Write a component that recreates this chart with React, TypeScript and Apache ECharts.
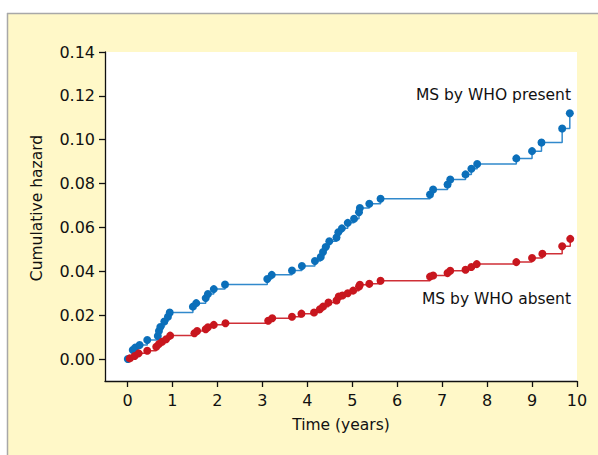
import React, { useEffect, useRef } from "react";
import * as echarts from "echarts";

// Time (years) and cumulative hazard at each event, MS by WHO present
const presentTime = [0.007, 0.118, 0.17, 0.27, 0.44, 0.675, 0.70, 0.73, 0.82, 0.90, 0.94, 1.455, 1.53, 1.74, 1.79, 1.92, 2.17, 3.11, 3.21, 3.66, 3.88, 4.17, 4.30, 4.35, 4.41, 4.49, 4.65, 4.69, 4.77, 4.90, 5.04, 5.15, 5.17, 5.38, 5.63, 6.73, 6.80, 7.12, 7.18, 7.52, 7.65, 7.78, 8.65, 9.00, 9.21, 9.67, 9.84];
const presentHazard = [0.0, 0.0041, 0.0052, 0.0064, 0.0087, 0.0105, 0.0128, 0.0146, 0.0171, 0.0193, 0.0212, 0.0239, 0.0255, 0.0278, 0.0297, 0.0319, 0.034, 0.0365, 0.0384, 0.0404, 0.0424, 0.0447, 0.0465, 0.0488, 0.0511, 0.0537, 0.0554, 0.0578, 0.0596, 0.0621, 0.064, 0.0669, 0.0689, 0.0708, 0.0731, 0.075, 0.0773, 0.0796, 0.0819, 0.0842, 0.0868, 0.0889, 0.0915, 0.0948, 0.0987, 0.1051, 0.1121];

// MS by WHO absent
const absentTime = [0.05, 0.16, 0.25, 0.44, 0.64, 0.70, 0.77, 0.86, 0.95, 1.49, 1.55, 1.74, 1.79, 1.92, 2.18, 3.13, 3.22, 3.66, 3.87, 4.15, 4.28, 4.35, 4.47, 4.65, 4.70, 4.78, 4.90, 5.02, 5.15, 5.17, 5.38, 5.63, 6.73, 6.80, 7.12, 7.18, 7.52, 7.65, 7.77, 8.65, 9.00, 9.23, 9.67, 9.85];
const absentHazard = [0.0003, 0.0014, 0.0026, 0.0038, 0.0056, 0.0069, 0.0079, 0.009, 0.0107, 0.0118, 0.0128, 0.0136, 0.0145, 0.0156, 0.0163, 0.0175, 0.0186, 0.0193, 0.0207, 0.0212, 0.0227, 0.0239, 0.0258, 0.0267, 0.0285, 0.029, 0.03, 0.0312, 0.0331, 0.0339, 0.0343, 0.0357, 0.0376, 0.0381, 0.0392, 0.0403, 0.0407, 0.042, 0.0433, 0.0442, 0.0461, 0.048, 0.0514, 0.0548];

const xTicks = [0, 1, 2, 3, 4, 5, 6, 7, 8, 9, 10];
const yTicks = [0, 0.02, 0.04, 0.06, 0.08, 0.1, 0.12, 0.14];

const seriesNames = ["MS by WHO present", "MS by WHO absent"];
const xTitle = "Time (years)";
const yTitle = "Cumulative hazard";

const FONT = "DejaVu Sans";

export default function App() {
  const ref = useRef<HTMLDivElement>(null);
  useEffect(() => {
    if (!ref.current) return;
    const chart = echarts.init(ref.current, undefined, { renderer: "svg" });
    const present = presentTime.map((t, i) => [t, presentHazard[i]]);
    const absent = absentTime.map((t, i) => [t, absentHazard[i]]);
    chart.setOption({
      animation: false,
      backgroundColor: "#fff8c8",
      textStyle: { fontFamily: FONT },
      grid: {
        left: 105,
        right: 21,
        top: 52,
        bottom: 74,
        show: true,
        backgroundColor: "#ffffff",
        borderWidth: 0,
      },
      xAxis: {
        type: "value",
        min: -0.5,
        max: 10,
        splitLine: { show: false },
        axisLine: { onZero: false, lineStyle: { color: "#111", width: 1.3 } },
        axisTick: { show: true, customValues: xTicks, length: 6, lineStyle: { color: "#111", width: 1.3 } },
        axisLabel: {
          customValues: xTicks,
          margin: 11,
          color: "#111",
          fontSize: 16,
          fontFamily: FONT,
        },
      },
      yAxis: {
        type: "value",
        min: -0.01,
        max: 0.14,
        splitLine: { show: false },
        axisLine: { show: true, onZero: false, lineStyle: { color: "#111", width: 1.3 } },
        axisTick: { show: true, customValues: yTicks, length: 6, lineStyle: { color: "#111", width: 1.3 } },
        axisLabel: {
          customValues: yTicks,
          margin: 10,
          color: "#111",
          fontSize: 16,
          fontFamily: FONT,
          formatter: (v: number) => v.toFixed(2),
        },
      },
      graphic: [
        { type: "rect", shape: { x: 0, y: 0, width: 598, height: 13 }, style: { fill: "#ffffff" }, silent: true },
        { type: "rect", shape: { x: 0, y: 0, width: 7, height: 455 }, style: { fill: "#ffffff" }, silent: true },
        { type: "line", shape: { x1: 7, y1: 13.5, x2: 598, y2: 13.5 }, style: { stroke: "#a8a8a8", lineWidth: 1.5 }, silent: true },
        { type: "line", shape: { x1: 7.5, y1: 13, x2: 7.5, y2: 455 }, style: { stroke: "#a8a8a8", lineWidth: 1.5 }, silent: true },
        {
          type: "text",
          x: 37,
          y: 208,
          rotation: Math.PI / 2,
          style: { text: yTitle, fill: "#111", font: `15.5px "${FONT}"`, align: "center", verticalAlign: "middle" },
          silent: true,
        },
        {
          type: "text",
          x: 341,
          y: 425,
          style: { text: xTitle, fill: "#111", font: `15.5px "${FONT}"`, align: "center", verticalAlign: "middle" },
          silent: true,
        },
        {
          type: "text",
          x: 571,
          y: 95,
          z: 100,
          style: { text: seriesNames[0], fill: "#111", font: `15.5px "${FONT}"`, align: "right", verticalAlign: "middle" },
          silent: true,
        },
        {
          type: "text",
          x: 571,
          y: 299,
          z: 100,
          style: { text: seriesNames[1], fill: "#111", font: `15.5px "${FONT}"`, align: "right", verticalAlign: "middle" },
          silent: true,
        },
      ],
      series: [
        {
          name: seriesNames[0],
          type: "line",
          step: "end",
          data: present,
          symbol: "circle",
          symbolSize: 8,
          showAllSymbol: true,
          itemStyle: { color: "#0b6fba" },
          lineStyle: { color: "#3189cc", width: 1.5 },
        },
        {
          name: seriesNames[1],
          type: "line",
          step: "end",
          data: absent,
          symbol: "circle",
          symbolSize: 8,
          showAllSymbol: true,
          itemStyle: { color: "#c8161e" },
          lineStyle: { color: "#cf2f37", width: 1.5 },
        },
      ],
    });
    return () => chart.dispose();
  }, []);
  return (
    <div
      ref={ref}
      style={{ position: "absolute", left: 0, top: 0, width: 598, height: 455 }}
    />
  );
}
